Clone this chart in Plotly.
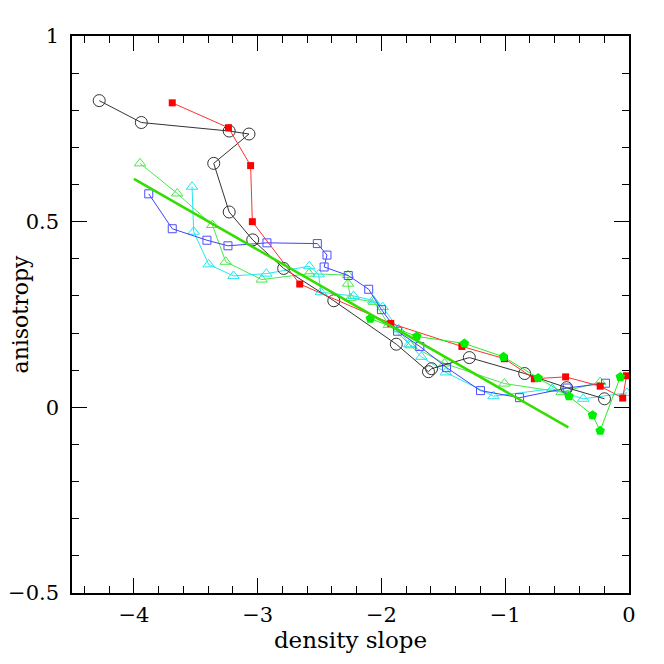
import plotly.graph_objects as go

# black open circles
circ_x = [-4.28, -3.94, -3.23, -3.07, -3.355, -3.23, -3.04, -2.79, -2.385, -1.88, -1.62, -1.595, -1.29, -0.843, -0.504, -0.198]
circ_y = [0.826, 0.767, 0.744, 0.736, 0.657, 0.526, 0.451, 0.374, 0.287, 0.170, 0.096, 0.104, 0.134, 0.091, 0.053, 0.023]

# red filled squares
red_x = [-3.69, -3.236, -3.057, -3.043, -2.66, -1.925, -1.35, -1.006, -0.765, -0.512, -0.233, -0.051, -0.02]
red_y = [0.820, 0.753, 0.651, 0.500, 0.332, 0.226, 0.164, 0.131, 0.077, 0.082, 0.057, 0.025, 0.085]

# blue open squares
blue_x = [-3.88, -3.69, -3.41, -3.24, -2.925, -2.518, -2.44, -2.463, -2.268, -2.103, -2.0, -1.87, -1.69, -1.474, -1.2, -0.884, -0.5, -0.19]
blue_y = [0.575, 0.481, 0.450, 0.435, 0.443, 0.441, 0.410, 0.378, 0.355, 0.318, 0.263, 0.205, 0.164, 0.107, 0.045, 0.026, 0.052, 0.065]

# cyan open triangles
cyan_x = [-3.53, -3.517, -3.396, -3.195, -2.93, -2.583, -2.507, -2.49, -2.225, -2.067, -1.99, -1.86, -1.775, -1.677, -1.48, -1.095, -0.62, -0.37, -0.016]
cyan_y = [0.594, 0.473, 0.385, 0.354, 0.360, 0.380, 0.358, 0.310, 0.300, 0.288, 0.270, 0.210, 0.170, 0.136, 0.094, 0.030, 0.050, 0.023, 0.039]

# green open triangles
gtri_x = [-3.95, -3.65, -3.366, -3.258, -2.967, -2.585, -2.27, -2.27, -2.25, -2.06, -1.94, -1.764, -1.49, -1.006, -0.545, -0.233]
gtri_y = [0.657, 0.576, 0.491, 0.392, 0.344, 0.360, 0.356, 0.333, 0.294, 0.284, 0.222, 0.167, 0.118, 0.064, 0.041, 0.068]

# green filled pentagons
pent_x = [-2.09, -1.715, -1.33, -1.014, -0.734, -0.485, -0.295, -0.233, -0.07]
pent_y = [0.239, 0.191, 0.172, 0.136, 0.079, 0.030, -0.021, -0.063, 0.082]

# fitted line
fit_x = [-4.0, -0.49]
fit_y = [0.615, -0.054]

fig = go.Figure()

fig.add_trace(go.Scatter(x=gtri_x, y=gtri_y, mode="lines+markers",
                         line=dict(color="#4ae84a", width=1),
                         marker=dict(symbol="triangle-up-open", size=10, color="#4ae84a", line=dict(width=1))))
fig.add_trace(go.Scatter(x=cyan_x, y=cyan_y, mode="lines+markers",
                         line=dict(color="#22e8f0", width=1),
                         marker=dict(symbol="triangle-up-open", size=10, color="#22e8f0", line=dict(width=1))))
fig.add_trace(go.Scatter(x=blue_x, y=blue_y, mode="lines+markers",
                         line=dict(color="#4040ff", width=1),
                         marker=dict(symbol="square-open", size=8, color="#4d4dff", line=dict(width=1))))
fig.add_trace(go.Scatter(x=circ_x, y=circ_y, mode="lines+markers",
                         line=dict(color="#333333", width=1),
                         marker=dict(symbol="circle-open", size=12, color="#333333", line=dict(width=1))))
fig.add_trace(go.Scatter(x=red_x, y=red_y, mode="lines+markers",
                         line=dict(color="#ff3030", width=1),
                         marker=dict(symbol="square", size=7, color="#ff0000")))
fig.add_trace(go.Scatter(x=pent_x, y=pent_y, mode="lines+markers",
                         line=dict(color="#22ee22", width=1),
                         marker=dict(symbol="pentagon", size=10, color="#00ee00")))
fig.add_trace(go.Scatter(x=fit_x, y=fit_y, mode="lines",
                         line=dict(color="#33dd00", width=2.5)))

tick_font = dict(family="DejaVu Serif", size=21, color="black")
fig.update_xaxes(range=[-4.5, 0], tickvals=[-4, -3, -2, -1, 0], ticktext=["\u22124", "\u22123", "\u22122", "\u22121", "0"],
                 ticks="inside", ticklen=15, tickwidth=1.2, tickcolor="black",
                 minor=dict(dtick=0.2, ticks="inside", ticklen=7, tickcolor="black"),
                 showline=True, linecolor="black", linewidth=1.5, mirror="allticks",
                 showgrid=False, zeroline=False, tickfont=tick_font, automargin=False,
                 ticklabelstandoff=2,
                 title=dict(text="density slope", font=dict(family="DejaVu Serif", size=23, color="black"), standoff=6))
fig.update_yaxes(range=[-0.5, 1], tickvals=[-0.5, 0, 0.5, 1], ticktext=["\u22120.5", "0", "0.5", "1"],
                 ticks="inside", ticklen=15, tickwidth=1.2, tickcolor="black",
                 minor=dict(dtick=0.1, ticks="inside", ticklen=7, tickcolor="black"),
                 showline=True, linecolor="black", linewidth=1.5, mirror="allticks",
                 showgrid=False, zeroline=False, tickfont=tick_font, automargin=False,
                 ticklabelstandoff=7,
                 title=dict(text="anisotropy", font=dict(family="DejaVu Serif", size=22, color="black"), standoff=4))
# page body adds an 8px offset, so the figure is 656 px and margins are shifted
fig.update_layout(width=656, height=656, showlegend=False,
                  plot_bgcolor="white", paper_bgcolor="white",
                  margin=dict(l=64, r=35, t=28, b=71))

fig.write_html("out.html")
